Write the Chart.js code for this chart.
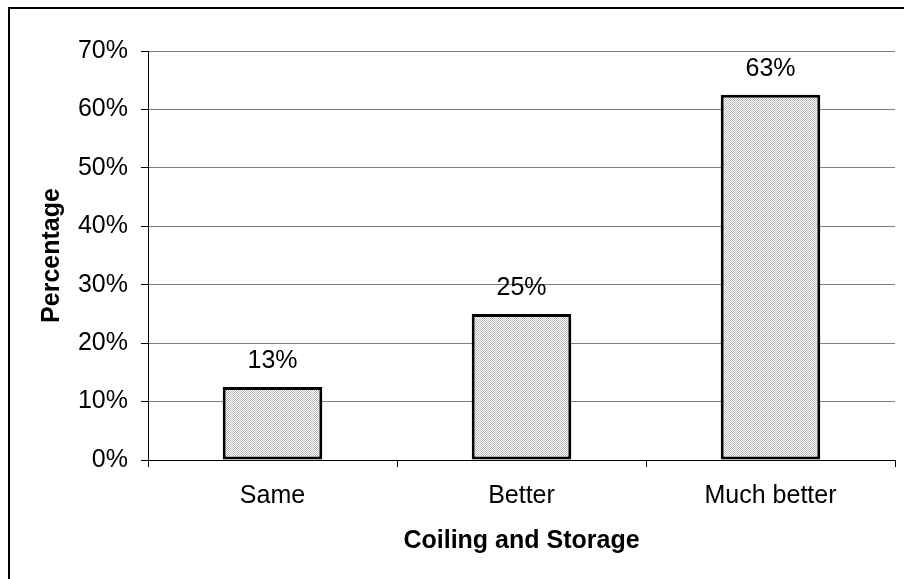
<!DOCTYPE html>
<html>
<head>
<meta charset="utf-8">
<script src="https://cdn.jsdelivr.net/npm/chart.js@4.4.1/dist/chart.umd.min.js"></script>
<style>
  html, body { margin: 0; padding: 0; background: #fff; }
  #wrap { width: 904px; height: 579px; position: relative; }
</style>
</head>
<body>
<div id="wrap"><canvas id="chart" width="904" height="579"></canvas></div>
<script>
  var categories = ['Same', 'Better', 'Much better'];
  var percentValues = [12.5, 25, 62.5];
  var valueLabels = ['13%', '25%', '63%'];
  var yTicks = [0, 10, 20, 30, 40, 50, 60, 70];

  var FONT = '"Liberation Sans", Arial, sans-serif';

  function hatchPattern() {
    var c = document.createElement('canvas');
    c.width = 4;
    c.height = 4;
    var g = c.getContext('2d');
    g.fillStyle = '#ffffff';
    g.fillRect(0, 0, 4, 4);
    g.fillStyle = '#bcbcbc';
    for (var y = 0; y < 4; y++) {
      for (var x = 0; x < 4; x++) {
        if ((x + y) % 2 === 0) g.fillRect(x, y, 1, 1);
      }
    }
    return g.createPattern(c, 'repeat');
  }

  // frame (only top and left visible in the cropped original) + value labels
  var extras = {
    id: 'extras',
    afterDraw: function (chart) {
      var ctx = chart.ctx;
      ctx.save();
      ctx.strokeStyle = '#000';
      ctx.lineWidth = 2;
      ctx.beginPath();
      ctx.moveTo(9, 1000);
      ctx.lineTo(9, 8);
      ctx.lineTo(1000, 8);
      ctx.stroke();

      ctx.fillStyle = '#000';
      ctx.font = '25px ' + FONT;
      ctx.textAlign = 'center';
      ctx.textBaseline = 'middle';
      chart.getDatasetMeta(0).data.forEach(function (bar, i) {
        ctx.fillText(valueLabels[i], bar.x, bar.y - 26);
      });
      ctx.restore();
    }
  };

  new Chart(document.getElementById('chart'), {
    type: 'bar',
    data: {
      labels: categories,
      datasets: [{
        data: percentValues,
        backgroundColor: hatchPattern(),
        borderColor: '#000',
        borderWidth: 3,
        borderSkipped: false,
        barPercentage: 0.4,
        categoryPercentage: 1
      }]
    },
    options: {
      responsive: false,
      animation: false,
      layout: { padding: { top: 51, right: 9, bottom: 0, left: 0 } },
      plugins: { legend: { display: false }, tooltip: { enabled: false } },
      scales: {
        x: {
          grid: { drawOnChartArea: false, drawTicks: true, tickLength: 7, color: '#000', offset: true },
          border: { color: '#000', width: 1 },
          ticks: { color: '#000', font: { family: FONT, size: 25 }, padding: 14, maxRotation: 0 },
          title: {
            display: true, text: 'Coiling and Storage', color: '#000',
            font: { family: FONT, size: 25, weight: 'bold' },
            padding: { top: 0, bottom: 23 }
          },
          afterFit: function (s) { s.height = 119; }
        },
        y: {
          min: 0,
          max: 70,
          afterBuildTicks: function (s) {
            s.ticks = yTicks.map(function (v) { return { value: v }; });
          },
          grid: { color: '#808080', tickColor: '#000', tickLength: 7, lineWidth: 1 },
          border: { color: '#000', width: 1 },
          ticks: {
            color: '#000', font: { family: FONT, size: 25 }, padding: 13,
            callback: function (v) { return v + '%'; }
          },
          title: {
            display: true, text: 'Percentage', color: '#000',
            font: { family: FONT, size: 25, weight: 'bold' },
            padding: { top: 37, bottom: 0 }
          },
          afterFit: function (s) { s.width = 148; }
        }
      }
    },
    plugins: [extras]
  });
</script>
</body>
</html>
